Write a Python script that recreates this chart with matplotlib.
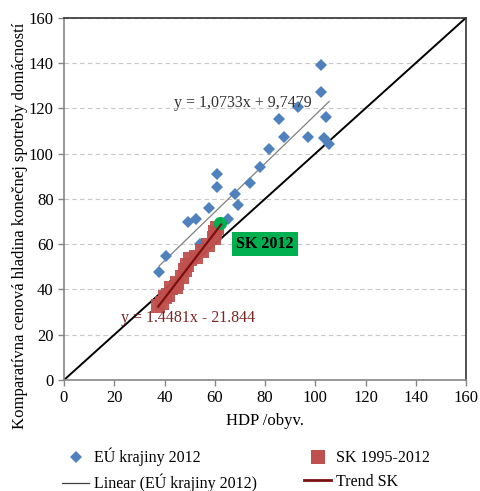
import numpy as np
import matplotlib.pyplot as plt
from matplotlib.lines import Line2D

plt.rcParams['font.family'] = ['Liberation Serif', 'DejaVu Serif']

# EU countries 2012 (GDP per capita, comparative price level)
eu_x = [102.2, 102.2, 93.0, 104.3, 85.7, 87.7, 97.1, 103.4, 105.5, 81.6,
        77.9, 74.0, 61.0, 61.0, 68.1, 57.6, 69.1, 49.5, 52.5, 65.4,
        54.1, 40.6, 37.9]
eu_y = [139.2, 127.4, 120.4, 116.1, 115.4, 107.2, 107.5, 106.7, 104.1, 101.8,
        94.0, 86.8, 91.0, 85.1, 82.2, 76.0, 77.1, 69.6, 71.2, 71.2,
        59.9, 54.8, 47.9]

# Slovakia 1995-2012
sk_years = list(range(1995, 2013))
sk_x = [37.5, 39.0, 40.0, 41.5, 42.5, 44.5, 45.0, 47.0, 48.0, 49.0,
        50.0, 52.5, 55.0, 57.5, 59.5, 60.0, 61.0, 62.0]
sk_y = [32.5, 34.0, 36.5, 37.5, 40.5, 41.0, 43.0, 45.5, 48.5, 51.0,
        53.5, 54.5, 57.0, 59.5, 62.5, 65.5, 67.0, 69.5]

eu_fit = (1.0733, 9.7479)
sk_fit = (1.4481, -21.844)

blue = '#4f81bd'
red = '#c0504d'
green = '#00b050'
maroon = '#7b1010'

fig = plt.figure(figsize=(4.81, 4.91), dpi=100)
ax = fig.add_axes([0.133, 0.226, 0.836, 0.738])

ax.set_xlim(0, 160)
ax.set_ylim(0, 160)
ax.set_xticks(np.arange(0, 161, 20))
ax.set_yticks(np.arange(0, 161, 20))
ax.yaxis.grid(True, linestyle=(0, (4, 3)), color='#c8c8c8', linewidth=0.8)
ax.set_axisbelow(True)

# 1:1 line
ax.plot([0, 160], [0, 160], color='black', linewidth=1.4, zorder=2)

# EU fit
xs = np.array([min(eu_x), max(eu_x)])
ax.plot(xs, eu_fit[0] * xs + eu_fit[1], color='#808080', linewidth=0.9, zorder=3)

ax.plot(eu_x, eu_y, 'D', color=blue, markersize=6, markeredgewidth=0, zorder=4)
ax.plot(sk_x[:-1], sk_y[:-1], 's', color=red, markersize=9.5, markeredgewidth=0,
        alpha=0.95, zorder=5)
ax.plot(sk_x[-1], sk_y[-1], 'o', color=green, markersize=9.5, markeredgewidth=0,
        zorder=6)

# SK trend
xs2 = np.array([37.5, 62.5])
ax.plot(xs2, sk_fit[0] * xs2 + sk_fit[1], color=maroon, linewidth=1.6, zorder=7)

ax.text(71, 122.4, 'y = 1,0733x + 9,7479', fontsize=11.5, color='#303030',
        ha='center', va='center', zorder=8)
ax.text(49.5, 27.4, 'y = 1.4481x - 21.844', fontsize=11.5, color='#7b2525',
        ha='center', va='center', zorder=8)
ax.text(80, 60, 'SK 2012', fontsize=11.5, fontweight='bold', color='black',
        ha='center', va='center', zorder=8,
        bbox=dict(boxstyle='square,pad=0.25', fc=green, ec='none'))

for s in ['left', 'bottom']:
    ax.spines[s].set_color('#868686')
    ax.spines[s].set_linewidth(1.2)
for s in ['top', 'right']:
    ax.spines[s].set_color('#333333')
    ax.spines[s].set_linewidth(1.2)

ax.tick_params(axis='both', labelsize=12, color='#868686', length=4, width=1)
ax.tick_params(top=False, right=False)
ax.set_xlabel('HDP /obyv.', fontsize=12, labelpad=5)
ax.set_ylabel('Komparatívna cenová hladina konečnej spotreby domácností', fontsize=12)
ax.yaxis.set_label_coords(-0.09, 0.425)

handles = [
    Line2D([], [], marker='D', color=blue, linestyle='none', markersize=6, markeredgewidth=0),
    Line2D([], [], color='#404040', linewidth=0.9),
    Line2D([], [], marker='s', color=red, linestyle='none', markersize=9.5, markeredgewidth=0),
    Line2D([], [], color=maroon, linewidth=2),
]
labels = ['EÚ krajiny 2012', 'Linear (EÚ krajiny 2012)', 'SK 1995-2012', 'Trend SK']
fig.legend(handles, labels, ncol=2, loc='upper left',
           bbox_to_anchor=(62 / 481, 1 - 448 / 491),
           frameon=False, fontsize=11.5, columnspacing=2.95, handlelength=1.7,
           handletextpad=0.3, labelspacing=0.45, borderpad=0, borderaxespad=0)

fig.savefig('out.png', dpi=100)
